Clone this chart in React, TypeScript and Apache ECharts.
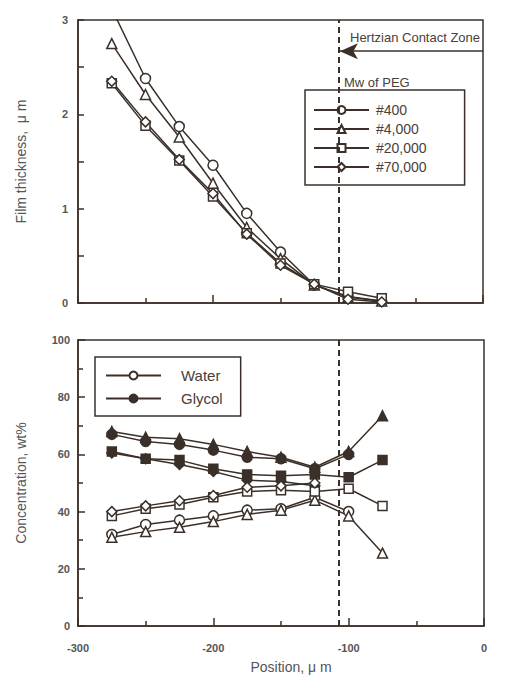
import React, { useEffect, useRef } from "react";
import * as echarts from "echarts";

const positions = [-275, -250, -225, -200, -175, -150, -125, -100, -75];

// Film thickness (µm)
const peg400Film = [3.12, 2.38, 1.87, 1.46, 0.95, 0.54, 0.19, 0.07, 0.02];
const peg4000Film = [2.75, 2.21, 1.76, 1.27, 0.8, 0.47, 0.19, 0.06, 0.02];
const peg20000Film = [2.33, 1.88, 1.51, 1.13, 0.74, 0.42, 0.2, 0.12, 0.05];
const peg70000Film = [2.35, 1.92, 1.52, 1.16, 0.73, 0.4, 0.2, 0.04, 0.01];

// Concentration (wt%)
const peg400Glycol = [67, 64.5, 63.5, 61.5, 59, 58.5, 55, 60];
const peg400Water = [32, 35.5, 37, 38.5, 40.5, 41, 45, 40];
const peg4000Glycol = [68, 66, 65.5, 63.5, 61, 59, 55.5, 61, 73.5];
const peg4000Water = [31, 33, 34.5, 36.5, 39, 40.5, 44, 38.5, 25.5];
const peg20000Glycol = [61, 58.5, 58, 55, 53, 52.5, 53, 52, 58];
const peg20000Water = [38.5, 41, 42.5, 45, 47, 47.5, 47, 48, 42];
const peg70000Glycol = [60.5, 58.5, 56.5, 54, 51, 50.5, 49];
const peg70000Water = [40, 42, 43.8, 45.6, 48.5, 49, 50];

const pegNames = ["#400", "#4,000", "#20,000", "#70,000"];
const pegSymbols = ["circle", "triangle", "rect", "diamond"];
const hertzianEdge = -107;

const INK = "#3b3029";
const FONT = "Liberation Sans, Arial, sans-serif";

function pairs(vals: number[]) {
  return vals.map((v, i) => [positions[i], v]);
}

export default function App() {
  const ref = useRef<HTMLDivElement>(null);
  useEffect(() => {
    if (!ref.current) return;
    const chart = echarts.init(ref.current, null, { renderer: "svg" });

    const film = [peg400Film, peg4000Film, peg20000Film, peg70000Film];
    const glycol = [peg400Glycol, peg4000Glycol, peg20000Glycol, peg70000Glycol];
    const water = [peg400Water, peg4000Water, peg20000Water, peg70000Water];
    const symSize = [10, 10, 9, 10];

    const dashed = {
      silent: true,
      symbol: ["none", "none"],
      label: { show: false },
      lineStyle: { type: [6, 4], width: 2, color: INK },
      data: [{ xAxis: hertzianEdge }],
    };

    const series: any[] = [];
    film.forEach((vals, i) => {
      const s: any = {
        name: pegNames[i],
        type: "line",
        xAxisIndex: 0,
        yAxisIndex: 0,
        data: pairs(vals),
        symbol: pegSymbols[i],
        symbolSize: symSize[i],
        clip: true,
        lineStyle: { color: INK, width: 1.5 },
        itemStyle: { color: "#ffffff", borderColor: INK, borderWidth: 1.5 },
        z: 3,
      };
      if (i === 0) {
        s.markLine = {
          silent: true,
          symbol: ["none", "none"],
          label: { show: false },
          data: [
            { xAxis: hertzianEdge, lineStyle: { type: [6, 4], width: 2, color: INK } },
            [
              { coord: [0, 2.67], symbol: "none", lineStyle: { type: "solid", width: 1.5, color: INK } },
              { coord: [hertzianEdge + 1, 2.67], symbol: "arrow", symbolSize: [12, 18] },
            ],
          ],
        };
      }
      series.push(s);
    });
    glycol.forEach((vals, i) => {
      const s: any = {
        name: pegNames[i] + " glycol",
        type: "line",
        xAxisIndex: 1,
        yAxisIndex: 1,
        data: pairs(vals),
        symbol: pegSymbols[i],
        symbolSize: symSize[i],
        lineStyle: { color: INK, width: 1.5 },
        itemStyle: { color: INK, borderColor: INK, borderWidth: 1.5 },
        z: 3,
      };
      if (i === 0) s.markLine = dashed;
      series.push(s);
    });
    water.forEach((vals, i) => {
      series.push({
        name: pegNames[i] + " water",
        type: "line",
        xAxisIndex: 1,
        yAxisIndex: 1,
        data: pairs(vals),
        symbol: pegSymbols[i],
        symbolSize: symSize[i],
        lineStyle: { color: INK, width: 1.5 },
        itemStyle: { color: "#ffffff", borderColor: INK, borderWidth: 1.5 },
        z: 3,
      });
    });
    series.push({
      name: "Water",
      type: "line",
      xAxisIndex: 1,
      yAxisIndex: 1,
      data: [],
      symbol: "circle",
      symbolSize: 10,
      lineStyle: { color: INK, width: 1.5 },
      itemStyle: { color: "#ffffff", borderColor: INK, borderWidth: 1.5 },
    });
    series.push({
      name: "Glycol",
      type: "line",
      xAxisIndex: 1,
      yAxisIndex: 1,
      data: [],
      symbol: "circle",
      symbolSize: 10,
      lineStyle: { color: INK, width: 1.5 },
      itemStyle: { color: INK, borderColor: INK, borderWidth: 1.5 },
    });

    const axisLabel = { color: "#555", fontFamily: FONT, fontSize: 11, fontWeight: "bold" as const };
    const nameStyle = { color: "#555", fontFamily: FONT, fontSize: 14 };

    const xCommon = {
      type: "value",
      min: -300,
      max: 0,
      interval: 100,
      axisLine: { onZero: false, lineStyle: { color: INK, width: 1.5 } },
      axisTick: { inside: true, length: 8, lineStyle: { color: INK, width: 1.5 } },
      minorTick: { show: true, splitNumber: 2, length: 5, lineStyle: { color: INK, width: 1.5 } },
      splitLine: { show: false },
    };

    chart.setOption({
      animation: false,
      backgroundColor: "#ffffff",
      grid: [
        { left: 78, top: 20, width: 405, height: 283, show: true, borderColor: INK, borderWidth: 1.5 },
        { left: 78, top: 340, width: 406, height: 286, show: true, borderColor: INK, borderWidth: 1.5 },
      ],
      xAxis: [
        { ...xCommon, gridIndex: 0, axisLabel: { show: false } },
        {
          ...xCommon,
          gridIndex: 1,
          axisLabel: { ...axisLabel, margin: 16, formatter: (v: number) => String(v) },
          name: "Position, \u03bc m",
          nameLocation: "middle",
          nameGap: 34,
          nameTextStyle: { ...nameStyle, padding: [0, 0, 0, 20] },
        },
      ],
      yAxis: [
        {
          type: "value",
          gridIndex: 0,
          min: 0,
          max: 3,
          interval: 1,
          axisLine: { show: true, onZero: false, lineStyle: { color: INK, width: 1.5 } },
          axisTick: { inside: true, length: 6, lineStyle: { color: INK, width: 1.5 } },
          minorTick: { show: true, splitNumber: 2, length: 6, lineStyle: { color: INK, width: 1.5 } },
          splitLine: { show: false },
          axisLabel: { ...axisLabel, margin: 10 },
          name: "Film thickness,  \u03bc m",
          nameLocation: "middle",
          nameGap: 50,
          nameTextStyle: nameStyle,
        },
        {
          type: "value",
          gridIndex: 1,
          min: 0,
          max: 100,
          interval: 20,
          axisLine: { show: true, onZero: false, lineStyle: { color: INK, width: 1.5 } },
          axisTick: { inside: true, length: 7, lineStyle: { color: INK, width: 1.5 } },
          minorTick: { show: true, splitNumber: 2, length: 5, lineStyle: { color: INK, width: 1.5 } },
          splitLine: { show: false },
          axisLabel: { ...axisLabel, margin: 8 },
          name: "Concentration, wt%",
          nameLocation: "middle",
          nameGap: 50,
          nameTextStyle: nameStyle,
        },
      ],
      legend: [
        {
          data: pegNames,
          orient: "vertical",
          left: 305,
          top: 90,
          itemWidth: 55,
          itemHeight: 10,
          itemGap: 5,
          padding: [13, 38, 11, 8],
          borderColor: INK,
          borderWidth: 1.5,
          selectedMode: false,
          textStyle: { color: "#4a4038", fontFamily: FONT, fontSize: 14, padding: [0, 0, 0, 2] },
        },
        {
          data: ["Water", "Glycol"],
          orient: "vertical",
          left: 95,
          top: 357,
          itemWidth: 55,
          itemHeight: 10,
          itemGap: 8,
          padding: [11, 18, 10, 10],
          borderColor: INK,
          borderWidth: 1.5,
          selectedMode: false,
          textStyle: { color: "#4a4038", fontFamily: FONT, fontSize: 15, padding: [0, 0, 0, 15] },
        },
      ],
      graphic: [
        {
          type: "text",
          left: 350,
          top: 31,
          style: { text: "Hertzian Contact Zone", fill: "#4a4038", font: "13px " + FONT },
        },
        {
          type: "text",
          left: 344,
          top: 76,
          style: { text: "Mw of PEG", fill: "#4a4038", font: "13px " + FONT },
        },
      ],
      series,
    });
    return () => chart.dispose();
  }, []);
  return <div ref={ref} style={{ position: "fixed", left: 0, top: 0, width: 515, height: 695 }} />;
}
